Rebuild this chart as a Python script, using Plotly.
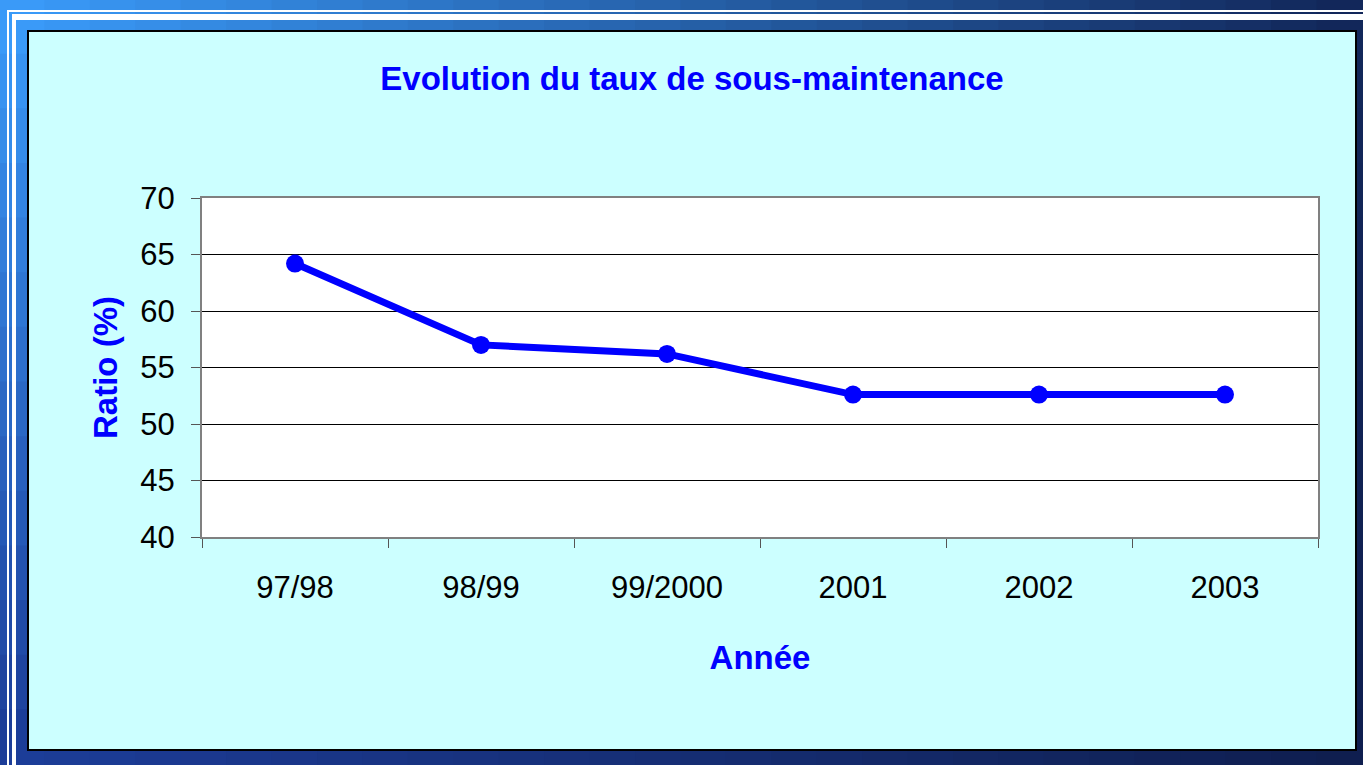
import plotly.graph_objects as go

years = ["97/98", "98/99", "99/2000", "2001", "2002", "2003"]
ratio = [64.2, 57.0, 56.2, 52.6, 52.6, 52.6]

W, H = 1363, 765
L, R, T, B = 202, 1318, 198, 537  # plot area in pixels


def px(x):
    return (x - L) / (R - L)


def py(y):
    return (B - y) / (B - T)


def mix(c1, c2, t):
    return tuple(a + (b - a) * t for a, b in zip(c1, c2))


# corner colours of the slide frame
tl, tr = (60, 160, 255), (18, 38, 88)
bl, br = (28, 58, 150), (15, 30, 78)

shapes = []
nx, ny = 30, 14
for i in range(nx):
    for j in range(ny):
        u, v = (i + 0.5) / nx, (j + 0.5) / ny
        c = mix(mix(tl, tr, u), mix(bl, br, u), v)
        shapes.append(dict(
            type="rect", xref="paper", yref="paper", layer="below",
            x0=px(W * i / nx - 1), x1=px(W * (i + 1) / nx + 1),
            y0=py(H * j / ny - 1), y1=py(H * (j + 1) / ny + 1),
            fillcolor="rgb(%d,%d,%d)" % c, line_width=0))

# white frame lines (top and left)
for x0, y0, x1, y1 in [(7, 10, W, 12), (12, 14, W, 20), (7, 10, 9, H), (12, 14, 16, H)]:
    shapes.append(dict(type="rect", xref="paper", yref="paper", layer="below",
                       x0=px(x0), x1=px(x1), y0=py(y0), y1=py(y1),
                       fillcolor="white", line_width=0))

# cyan chart panel
shapes.append(dict(type="rect", xref="paper", yref="paper", layer="below",
                   x0=px(28), x1=px(1356), y0=py(31), y1=py(750),
                   fillcolor="#CCFFFF", line=dict(color="black", width=2)))
# white plot area on top of the panel
shapes.append(dict(type="rect", xref="paper", yref="paper", layer="below",
                   x0=0, x1=1, y0=0, y1=1, fillcolor="white", line_width=0))

fig = go.Figure()
fig.add_trace(go.Scatter(
    x=years, y=ratio, mode="lines+markers",
    line=dict(color="#0000FF", width=7),
    marker=dict(color="#0000FF", size=18),
    cliponaxis=False, showlegend=False))

fig.update_layout(
    width=W, height=H,
    margin=dict(l=L, r=W - R, t=T, b=H - B),
    paper_bgcolor="#1A3070",
    plot_bgcolor="white",
    font=dict(family="Liberation Sans, Arial", color="black", size=31),
    title=dict(text="<b>Evolution du taux de sous-maintenance</b>",
               font=dict(color="#0000FF", size=33),
               x=px(692), xref="paper", xanchor="center",
               y=1 - 78 / H, yanchor="middle"),
    shapes=shapes,
)

fig.update_xaxes(
    type="category", tickson="boundaries", range=[-0.5, len(years) - 0.5],
    ticks="outside", ticklen=9, tickcolor="#555555", tickwidth=1,
    showline=True, linecolor="#808080", linewidth=2, mirror=True,
    showgrid=False, ticklabelstandoff=22,
    title=dict(text="<b>Année</b>", font=dict(color="#0000FF", size=33), standoff=42),
)
fig.update_yaxes(
    range=[40, 70], dtick=5,
    ticks="outside", ticklen=9, tickcolor="#555555", tickwidth=1,
    showline=True, linecolor="#808080", linewidth=2, mirror=True,
    showgrid=True, gridcolor="black", gridwidth=1, zeroline=False,
    ticklabelstandoff=10,
    title=dict(text="<b>Ratio (%)</b>", font=dict(color="#0000FF", size=33), standoff=13),
)

fig.write_html("out.html", config={"displayModeBar": False},
               post_script="document.body.style.margin='0';document.body.style.overflow='hidden';")
